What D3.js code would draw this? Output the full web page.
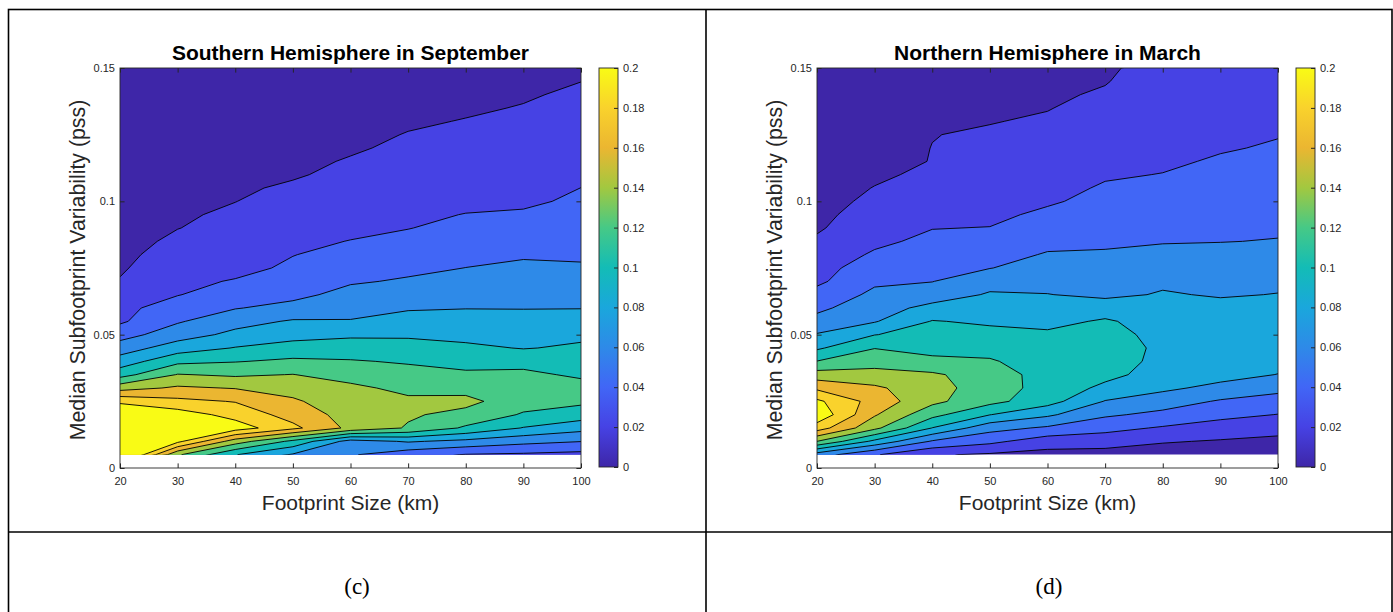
<!DOCTYPE html>
<html>
<head>
<meta charset="utf-8">
<script src="https://cdn.jsdelivr.net/npm/d3@7"></script>
<style>
  body { margin: 0; background: #fff; }
  svg { display: block; }
  .tick text { font-family: "Liberation Sans", Arial, sans-serif; font-size: 11px; fill: #262626; }
  .tick line { stroke: #262626; }
</style>
</head>
<body>
<svg id="chart" width="1393" height="612"></svg>
<script>
    'use strict';

    // grid of the contour data: footprint size (km) x median subfootprint variability (pss)
    var footprint = [20, 30, 40, 50, 60, 70, 80, 90, 100];
    var variability = [0.005, 0.010, 0.015, 0.020, 0.025, 0.030, 0.035, 0.040, 0.045, 0.050,
                       0.055, 0.060, 0.065, 0.070, 0.075, 0.080, 0.085, 0.090, 0.095, 0.100,
                       0.105, 0.110, 0.115, 0.120, 0.125, 0.130, 0.135, 0.140, 0.145, 0.150];
    var levels = [0.02, 0.04, 0.06, 0.08, 0.10, 0.12, 0.14, 0.16, 0.18, 0.20];

    var xTicks = [20, 30, 40, 50, 60, 70, 80, 90, 100];
    var yTicks = [0, 0.05, 0.1, 0.15];
    var cbTicks = [0, 0.02, 0.04, 0.06, 0.08, 0.1, 0.12, 0.14, 0.16, 0.18, 0.2];

    // one column per footprint size, values from bottom (0.005) to top (0.15)
    var southSeptember = [
        [0.24, 0.25, 0.24, 0.22, 0.196, 0.152, 0.112, 0.089, 0.07, 0.052, 0.037, 0.033, 0.027, 0.021, 0.018, 0.016, 0.0145, 0.013, 0.012, 0.011, 0.010, 0.0095, 0.009, 0.0085, 0.008, 0.0075, 0.007, 0.0065, 0.006, 0.0055],
        [0.143, 0.205, 0.23, 0.21, 0.185, 0.163, 0.141, 0.115, 0.09, 0.071, 0.058, 0.052, 0.039, 0.035, 0.031, 0.027, 0.023, 0.0197, 0.018, 0.016, 0.015, 0.014, 0.013, 0.012, 0.011, 0.0105, 0.01, 0.0095, 0.009, 0.0085],
        [0.101, 0.15, 0.21, 0.193, 0.179, 0.159, 0.137, 0.119, 0.101, 0.085, 0.073, 0.059, 0.052, 0.0415, 0.034, 0.030, 0.027, 0.0245, 0.0225, 0.0198, 0.018, 0.0165, 0.015, 0.014, 0.013, 0.012, 0.0115, 0.011, 0.0105, 0.01],
        [0.078, 0.115, 0.185, 0.172, 0.163, 0.152, 0.1405, 0.1235, 0.108, 0.093, 0.082, 0.066, 0.055, 0.048, 0.0435, 0.0395, 0.036, 0.032, 0.028, 0.025, 0.022, 0.0186, 0.017, 0.0158, 0.0147, 0.0137, 0.0128, 0.012, 0.0113, 0.0106],
        [0.062, 0.072, 0.155, 0.152, 0.147, 0.145, 0.131, 0.1215, 0.109, 0.097, 0.081, 0.074, 0.066, 0.058, 0.052, 0.046, 0.0405, 0.036, 0.032, 0.029, 0.026, 0.0235, 0.021, 0.0185, 0.017, 0.016, 0.015, 0.014, 0.0132, 0.0125],
        [0.048, 0.082, 0.138, 0.1425, 0.1445, 0.134, 0.127, 0.118, 0.108, 0.097, 0.088, 0.078, 0.069, 0.062, 0.056, 0.050, 0.045, 0.0395, 0.0365, 0.033, 0.030, 0.027, 0.0245, 0.0225, 0.0205, 0.0185, 0.0175, 0.0165, 0.0155, 0.0145],
        [0.039, 0.075, 0.117, 0.134, 0.1455, 0.133, 0.124, 0.112, 0.104, 0.094, 0.087, 0.0795, 0.073, 0.0665, 0.0602, 0.055, 0.050, 0.045, 0.0405, 0.036, 0.033, 0.030, 0.027, 0.0245, 0.0225, 0.0205, 0.0185, 0.0175, 0.0165, 0.0155],
        [0.037, 0.066, 0.099, 0.118, 0.128, 0.13, 0.124, 0.114, 0.099, 0.091, 0.085, 0.0795, 0.074, 0.069, 0.0635, 0.058, 0.054, 0.049, 0.0425, 0.0365, 0.0335, 0.031, 0.0285, 0.026, 0.0238, 0.0222, 0.0206, 0.0188, 0.0175, 0.0165],
        [0.034, 0.0605, 0.087, 0.11, 0.124, 0.127, 0.117, 0.11, 0.103, 0.096, 0.088, 0.0795, 0.073, 0.0675, 0.062, 0.0575, 0.054, 0.0505, 0.047, 0.0435, 0.0401, 0.0365, 0.0335, 0.031, 0.0285, 0.026, 0.024, 0.022, 0.0199, 0.018]
    ];

    var northMarch = [
        [0.07, 0.14, 0.19, 0.215, 0.204, 0.176, 0.149, 0.1205, 0.097, 0.0815, 0.066, 0.056, 0.047, 0.036, 0.032, 0.028, 0.0225, 0.018, 0.016, 0.014, 0.013, 0.012, 0.011, 0.010, 0.0095, 0.009, 0.0085, 0.008, 0.0075, 0.007],
        [0.042, 0.095, 0.145, 0.162, 0.172, 0.163, 0.148, 0.131, 0.1195, 0.0995, 0.0785, 0.071, 0.064, 0.057, 0.051, 0.0425, 0.036, 0.031, 0.027, 0.0235, 0.0205, 0.0175, 0.016, 0.0148, 0.0138, 0.013, 0.0122, 0.0115, 0.011, 0.0105],
        [0.022, 0.058, 0.0995, 0.126, 0.145, 0.149, 0.143, 0.125, 0.113, 0.107, 0.101, 0.086, 0.07, 0.0595, 0.054, 0.049, 0.0445, 0.0395, 0.035, 0.0315, 0.027, 0.0231, 0.0204, 0.0202, 0.0197, 0.0175, 0.016, 0.015, 0.014, 0.013],
        [0.0175, 0.045, 0.067, 0.1005, 0.126, 0.128, 0.13, 0.122, 0.113, 0.106, 0.097, 0.089, 0.082, 0.073, 0.0595, 0.053, 0.047, 0.0405, 0.0355, 0.033, 0.031, 0.028, 0.0255, 0.0235, 0.0215, 0.0195, 0.0178, 0.0165, 0.0155, 0.0145],
        [0.014, 0.029, 0.057, 0.0835, 0.108, 0.114, 0.112, 0.11, 0.107, 0.1035, 0.094, 0.087, 0.0805, 0.074, 0.068, 0.0615, 0.055, 0.05, 0.044, 0.0375, 0.034, 0.031, 0.028, 0.0255, 0.0235, 0.0215, 0.0195, 0.018, 0.017, 0.016],
        [0.012, 0.029, 0.046, 0.063, 0.079, 0.095, 0.106, 0.109, 0.11, 0.107, 0.1025, 0.09, 0.076, 0.071, 0.0665, 0.062, 0.057, 0.054, 0.05, 0.046, 0.042, 0.038, 0.035, 0.032, 0.029, 0.0265, 0.024, 0.0215, 0.0193, 0.0175],
        [0.0105, 0.0215, 0.038, 0.055, 0.0695, 0.084, 0.091, 0.095, 0.096, 0.094, 0.091, 0.087, 0.0815, 0.077, 0.0725, 0.0665, 0.0585, 0.055, 0.052, 0.0485, 0.0445, 0.0405, 0.037, 0.035, 0.033, 0.031, 0.0295, 0.028, 0.027, 0.0264],
        [0.0085, 0.0185, 0.031, 0.0455, 0.058, 0.0745, 0.087, 0.092, 0.093, 0.0915, 0.089, 0.085, 0.0785, 0.075, 0.0705, 0.066, 0.0595, 0.0565, 0.054, 0.051, 0.048, 0.045, 0.042, 0.0385, 0.0365, 0.035, 0.0335, 0.032, 0.031, 0.03],
        [0.0075, 0.0155, 0.0265, 0.0395, 0.052, 0.0655, 0.0795, 0.087, 0.09, 0.0905, 0.089, 0.086, 0.0805, 0.0765, 0.072, 0.0675, 0.0608, 0.0575, 0.0555, 0.0525, 0.0495, 0.047, 0.0445, 0.0418, 0.0392, 0.0375, 0.036, 0.035, 0.034, 0.033]
    ];

    // parula colours at 0, 0.02, ... 0.2
    var parula = ['#3e26a8', '#4642e4', '#4166f6', '#2e8ae8', '#1aa7dc', '#13bcb6',
                  '#46c986', '#a2c840', '#ebb631', '#f9d22c', '#f9fb15'];

    var panels = [
        {title: 'Southern Hemisphere in September', left: 120, grid: southSeptember, caption: '(c)', captionX: 357},
        {title: 'Northern Hemisphere in March', left: 817, grid: northMarch, caption: '(d)', captionX: 1049}
    ];

    var svg = d3.select('#chart');
    var plot_top = 68, plot_bottom = 468, plot_width = 461;
    var font = '"Liberation Sans", Arial, sans-serif';
    var fmt = function(d) { return String(+d.toFixed(2)); };

    // table frame around the figure
    var frame = svg.append('g')
        .attr('stroke', '#000')
        .attr('stroke-width', 1.6)
        .attr('fill', 'none');
    frame.append('rect').attr('x', 8.5).attr('y', 9.5).attr('width', 1383.5).attr('height', 640);
    frame.append('line').attr('x1', 706).attr('x2', 706).attr('y1', 9.5).attr('y2', 650);
    frame.append('line').attr('x1', 8.5).attr('x2', 1392).attr('y1', 532).attr('y2', 532);

    var defs = svg.append('defs');
    var grad = defs.append('linearGradient')
        .attr('id', 'parula')
        .attr('x1', 0).attr('y1', 1).attr('x2', 0).attr('y2', 0);
    grad.selectAll('stop')
        .data(parula)
        .enter()
        .append('stop')
        .attr('offset', function(d, i) { return i / (parula.length - 1); })
        .attr('stop-color', function(d) { return d; });

    panels.forEach(function(p, k) {
        var g = svg.append('g');
        var x = d3.scaleLinear().domain([20, 100]).range([p.left, p.left + plot_width]);
        var y = d3.scaleLinear().domain([0, 0.15]).range([plot_bottom, plot_top]);

        var nx = footprint.length, ny = variability.length;
        var values = new Array(nx * ny);
        p.grid.forEach(function(col, i) {
            col.forEach(function(v, j) { values[j * nx + i] = v; });
        });
        var dx = footprint[1] - footprint[0], dy = variability[1] - variability[0];
        var proj = d3.geoTransform({
            point: function(px, py) {
                this.stream.point(x(footprint[0] + (px - 0.5) * dx),
                                  y(variability[0] + (py - 0.5) * dy));
            }
        });
        var path = d3.geoPath(proj);
        var contours = d3.contours().size([nx, ny]).thresholds(levels)(values);

        var clipId = 'clip' + k;
        defs.append('clipPath').attr('id', clipId)
            .append('rect')
            .attr('x', x(footprint[0]))
            .attr('y', y(variability[ny - 1]))
            .attr('width', x(footprint[nx - 1]) - x(footprint[0]))
            .attr('height', y(variability[0]) - y(variability[ny - 1]));

        var field = g.append('g').attr('clip-path', 'url(#' + clipId + ')');
        field.append('rect')
            .attr('x', x(footprint[0]))
            .attr('y', y(variability[ny - 1]))
            .attr('width', x(footprint[nx - 1]) - x(footprint[0]))
            .attr('height', y(variability[0]) - y(variability[ny - 1]))
            .attr('fill', parula[0]);
        field.selectAll('path.band')
            .data(contours)
            .enter()
            .append('path')
            .attr('class', 'band')
            .attr('d', path)
            .attr('fill', function(d, i) { return parula[i + 1]; });
        field.selectAll('path.iso')
            .data(contours)
            .enter()
            .append('path')
            .attr('class', 'iso')
            .attr('d', path)
            .attr('fill', 'none')
            .attr('stroke', '#000')
            .attr('stroke-width', 0.9);

        // axes, MATLAB style: ticks inside on all four sides
        g.append('g')
            .attr('transform', 'translate(0,' + plot_bottom + ')')
            .call(d3.axisBottom(x).tickValues(xTicks).tickSize(-4.6).tickSizeOuter(0).tickPadding(9))
            .call(function(a) { a.select('.domain').remove(); });
        g.append('g')
            .attr('transform', 'translate(0,' + plot_top + ')')
            .call(d3.axisTop(x).tickValues(xTicks).tickSize(-4.6).tickSizeOuter(0).tickFormat(''))
            .call(function(a) { a.select('.domain').remove(); });
        g.append('g')
            .attr('transform', 'translate(' + p.left + ',0)')
            .call(d3.axisLeft(y).tickValues(yTicks).tickSize(-4.6).tickSizeOuter(0).tickPadding(5).tickFormat(fmt))
            .call(function(a) { a.select('.domain').remove(); });
        g.append('g')
            .attr('transform', 'translate(' + (p.left + plot_width) + ',0)')
            .call(d3.axisRight(y).tickValues(yTicks).tickSize(-4.6).tickSizeOuter(0).tickFormat(''))
            .call(function(a) { a.select('.domain').remove(); });
        g.selectAll('.tick text').attr('font-family', null).attr('font-size', null);
        g.append('rect')
            .attr('x', p.left).attr('y', plot_top)
            .attr('width', plot_width).attr('height', plot_bottom - plot_top)
            .attr('fill', 'none').attr('stroke', '#262626').attr('stroke-width', 0.9);

        // colorbar
        var cb_left = p.left + plot_width + 18, cb_width = 19;
        var cb = d3.scaleLinear().domain([0, 0.2]).range([plot_bottom - 1, plot_top]);
        g.append('rect')
            .attr('x', cb_left).attr('y', plot_top)
            .attr('width', cb_width).attr('height', plot_bottom - 1 - plot_top)
            .attr('fill', 'url(#parula)')
            .attr('stroke', '#262626').attr('stroke-width', 0.9);
        g.append('g')
            .attr('transform', 'translate(' + (cb_left + cb_width) + ',0)')
            .call(d3.axisRight(cb).tickValues(cbTicks).tickSize(-4).tickSizeOuter(0).tickPadding(5).tickFormat(fmt))
            .call(function(a) { a.select('.domain').remove(); })
            .selectAll('.tick text').attr('font-family', null).attr('font-size', null);

        // titles and labels
        g.append('text')
            .attr('x', p.left + plot_width / 2).attr('y', 60)
            .attr('text-anchor', 'middle')
            .attr('font-family', font).attr('font-size', 21).attr('font-weight', 'bold')
            .attr('fill', '#000')
            .text(p.title);
        g.append('text')
            .attr('x', p.left + plot_width / 2).attr('y', 510)
            .attr('text-anchor', 'middle')
            .attr('font-family', font).attr('font-size', 21)
            .attr('fill', '#262626')
            .text('Footprint Size (km)');
        g.append('text')
            .attr('transform', 'translate(' + (p.left - 35.5) + ',' + ((plot_top + plot_bottom) / 2 + 2) + ') rotate(-90)')
            .attr('text-anchor', 'middle')
            .attr('font-family', font).attr('font-size', 21.3)
            .attr('fill', '#262626')
            .text('Median Subfootprint Variability (pss)');
        g.append('text')
            .attr('x', p.captionX).attr('y', 594)
            .attr('text-anchor', 'middle')
            .attr('font-family', '"Palatino Linotype", "Liberation Serif", serif').attr('font-size', 23)
            .attr('fill', '#000')
            .text(p.caption);
    });
</script>
</body>
</html>
